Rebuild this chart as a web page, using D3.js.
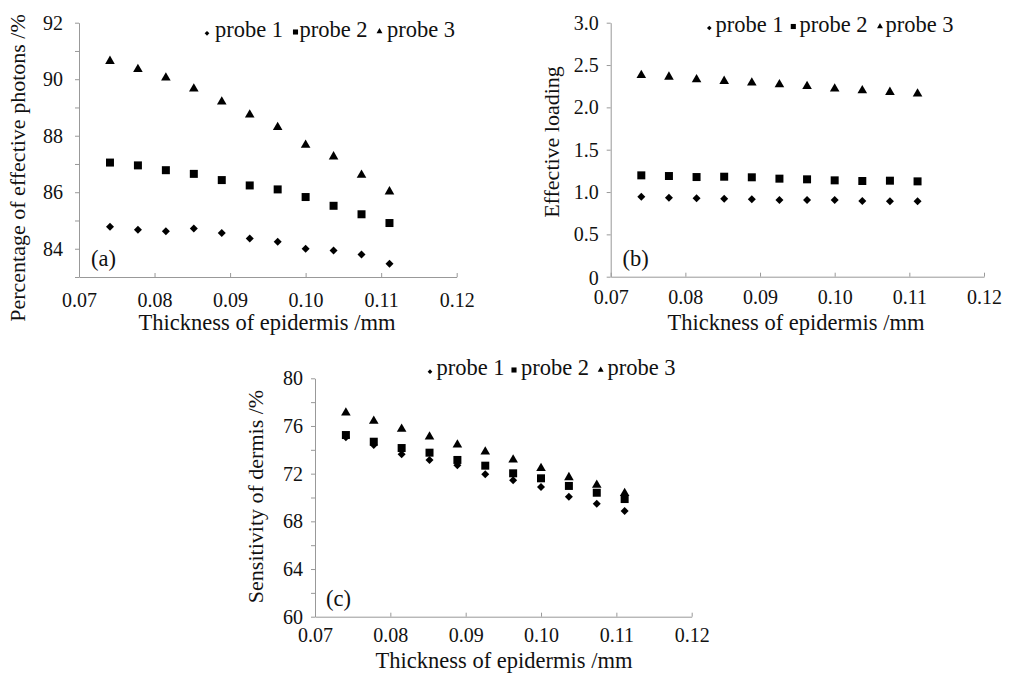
<!DOCTYPE html>
<html>
<head>
<meta charset="utf-8">
<script src="https://cdn.jsdelivr.net/npm/d3@7"></script>
<style>
  body { margin: 0; background: #fff; }
  .axis path, .axis line { stroke: #999; }
</style>
</head>
<body>
<div class="chart-container"></div>
<script>
// Data
const thickness = [0.0741, 0.0778, 0.0815, 0.0852, 0.0889, 0.0926, 0.0963, 0.1000, 0.1037, 0.1074, 0.1111];
const seriesNames = ['probe 1', 'probe 2', 'probe 3'];

// (a) percentage of effective photons /%
const photonsProbe1 = [84.78, 84.67, 84.62, 84.72, 84.56, 84.36, 84.25, 84.00, 83.94, 83.80, 83.47];
const photonsProbe2 = [87.05, 86.95, 86.78, 86.65, 86.43, 86.24, 86.10, 85.83, 85.52, 85.22, 84.91];
const photonsProbe3 = [90.64, 90.35, 90.05, 89.66, 89.20, 88.74, 88.30, 87.67, 87.26, 86.61, 86.02];

// (b) effective loading
const loadingProbe1 = [0.945, 0.933, 0.926, 0.921, 0.914, 0.906, 0.906, 0.906, 0.894, 0.890, 0.890];
const loadingProbe2 = [1.197, 1.189, 1.177, 1.181, 1.174, 1.158, 1.150, 1.138, 1.130, 1.134, 1.126];
const loadingProbe3 = [2.38, 2.36, 2.33, 2.31, 2.29, 2.27, 2.25, 2.22, 2.20, 2.18, 2.16];

// (c) sensitivity of dermis /%
const sensProbe1 = [75.05, 74.40, 73.62, 73.15, 72.70, 71.95, 71.44, 70.88, 70.07, 69.48, 68.87];
const sensProbe2 = [75.24, 74.68, 74.15, 73.76, 73.15, 72.67, 72.03, 71.61, 70.97, 70.40, 69.87];
const sensProbe3 = [77.11, 76.42, 75.75, 75.10, 74.43, 73.84, 73.17, 72.45, 71.69, 71.05, 70.35];

// tick values
const xTicks = [0.07, 0.08, 0.09, 0.10, 0.11, 0.12];
const yTicksA = [83, 84, 85, 86, 87, 88, 89, 90, 91, 92];
const yLabelsA = [84, 86, 88, 90, 92];
const yTicksB = [0, 0.5, 1.0, 1.5, 2.0, 2.5, 3.0];
const yLabelsB = [0, 0.5, 1.0, 1.5, 2.0, 2.5, 3.0];
const yTicksC = [60, 62, 64, 66, 68, 70, 72, 74, 76, 78, 80];
const yLabelsC = [60, 64, 68, 72, 76, 80];

const FONT = '"Liberation Serif", "DejaVu Serif", serif';

const svg = d3.select('.chart-container').append('svg')
  .attr('width', 1015).attr('height', 677)
  .attr('font-family', FONT);

const shapes = [
  {type: d3.symbolSquare, size: 32, rotate: 45, legendSize: 11},   // diamond
  {type: d3.symbolSquare, size: 64, rotate: 0, legendSize: 26},
  {type: d3.symbolTriangle, size: 40, rotate: 0, legendSize: 15}
];

function addText(sel, size){
  return sel.append('text').style('font-family', FONT).style('font-size', size).attr('fill', '#111');
}

function drawPanel(p){
  const xScale = d3.scaleLinear().domain([0.07, 0.12]).range(p.xRange);
  const yScale = d3.scaleLinear().domain(p.yDomain).range(p.yRange);
  const g = svg.append('g');

  // axes
  const xAxis = d3.axisBottom(xScale).tickValues(xTicks)
    .tickFormat(d3.format('.2f'))
    .tickSizeInner(-4).tickSizeOuter(0).tickPadding(p.xPad);
  const xAxisDraw = g.append('g').attr('class', 'x axis')
    .attr('transform', `translate(0,${p.yRange[0]})`).call(xAxis);
  xAxisDraw.attr('font-family', FONT);
  xAxisDraw.selectAll('text').style('font-family', FONT).style('font-size', '20px').attr('fill', '#111');

  const yAxis = d3.axisLeft(yScale).tickValues(p.yTicks)
    .tickFormat(d => p.yLabels.includes(d) ? p.yFormat(d) : '')
    .tickSizeInner(4).tickSizeOuter(0).tickPadding(p.yPad);
  const yAxisDraw = g.append('g').attr('class', 'y axis')
    .attr('transform', `translate(${p.xRange[0]},0)`).call(yAxis);
  yAxisDraw.attr('font-family', FONT);
  yAxisDraw.selectAll('text').style('font-family', FONT).style('font-size', '20px').attr('fill', '#111');
  if (p.zeroShift) yAxisDraw.selectAll('text').filter(d => d === 0).attr('dy', p.zeroShift);
  g.selectAll('.axis .domain').attr('stroke', '#999');

  // points
  p.series.forEach((vals, i) => {
    const s = shapes[i];
    g.selectAll('.pt' + i).data(vals).enter().append('path')
      .attr('class', 'pt' + i)
      .attr('d', d3.symbol().type(s.type).size(s.size))
      .attr('transform', (d, j) => `translate(${xScale(thickness[j])},${yScale(d)}) rotate(${s.rotate})`)
      .attr('fill', '#000');
  });

  // legend
  const lg = g.append('g');
  seriesNames.forEach((name, i) => {
    const s = shapes[i];
    lg.append('path')
      .attr('d', d3.symbol().type(s.type).size(s.legendSize))
      .attr('transform', `translate(${p.legend.mx[i]},${p.legend.my[i]}) rotate(${s.rotate})`)
      .attr('fill', '#000');
    addText(lg, '22.5px').attr('x', p.legend.tx[i]).attr('y', p.legend.base).text(name);
  });

  // panel tag
  addText(g, '22.5px').attr('x', p.tag[0]).attr('y', p.tag[1]).text(p.tagText);

  // titles
  addText(g, '22.5px').attr('text-anchor', 'middle')
    .attr('x', p.xTitle[0]).attr('y', p.xTitle[1])
    .text('Thickness of epidermis /mm');
  addText(g, '22px').attr('text-anchor', 'middle')
    .attr('transform', `translate(${p.yTitle[0]},${p.yTitle[1]}) rotate(-90)`)
    .text(p.yTitleText);
}

drawPanel({
  xRange: [79, 456.7], yDomain: [83, 92], yRange: [277, 22.7],
  yTicks: yTicksA, yLabels: yLabelsA, yFormat: d3.format('d'), xPad: 16, yPad: 12,
  series: [photonsProbe1, photonsProbe2, photonsProbe3],
  legend: {mx: [207, 295.5, 379.5], my: [33.3, 32, 31.5], tx: [215, 299.5, 387], base: 36.5},
  tag: [91, 266], tagText: '(a)',
  xTitle: [267, 330], yTitle: [24.5, 168], yTitleText: 'Percentage of effective photons /%'
});

drawPanel({
  xRange: [610.7, 984], yDomain: [0, 3], yRange: [276.7, 22.7],
  yTicks: yTicksB, yLabels: yLabelsB, yFormat: d => d === 0 ? '0' : d3.format('.1f')(d),
  xPad: 13.5, yPad: 8, zeroShift: '0.4em',
  series: [loadingProbe1, loadingProbe2, loadingProbe3],
  legend: {mx: [709.3, 793.3, 880], my: [28, 26.5, 26.5], tx: [715.5, 799.5, 885.5], base: 31.5},
  tag: [622.5, 266], tagText: '(b)',
  xTitle: [796, 330], yTitle: [558.5, 142], yTitleText: 'Effective loading'
});

drawPanel({
  xRange: [315, 691.7], yDomain: [60, 80], yRange: [616.7, 378.3],
  yTicks: yTicksC, yLabels: yLabelsC, yFormat: d3.format('d'), xPad: 11.5, yPad: 8,
  series: [sensProbe1, sensProbe2, sensProbe3],
  legend: {mx: [430, 514, 600.7], my: [371.7, 370, 370], tx: [436.5, 521, 607.5], base: 375},
  tag: [326, 606], tagText: '(c)',
  xTitle: [504, 668], yTitle: [263, 496.5], yTitleText: 'Sensitivity of dermis /%'
});
</script>
</body>
</html>
